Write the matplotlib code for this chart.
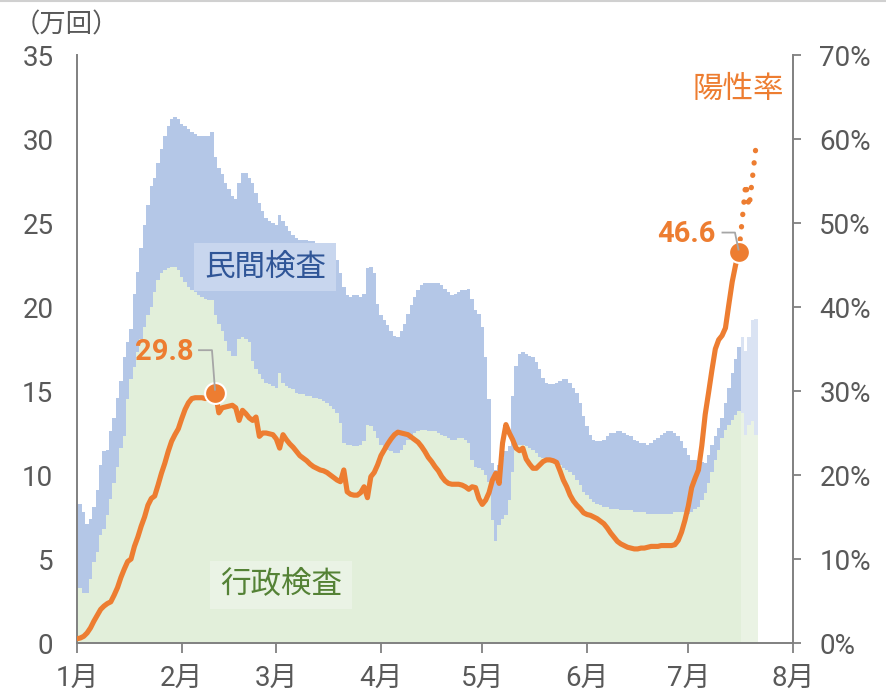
import matplotlib
matplotlib.use("Agg")
import matplotlib.pyplot as plt
import numpy as np
from matplotlib.lines import Line2D

plt.rcParams['font.family'] = ['Roboto', 'Noto Sans CJK JP', 'DejaVu Sans']

# --- data (day index 0 = 1 January) ---
month_labels = ['1月', '2月', '3月', '4月', '5月', '6月', '7月', '8月']
month_starts = [0, 31, 59, 90, 120, 151, 181, 212]

# total tests (万回), 7-day average
total_tests = [
    8.3, 8.3, 7.8, 7.1, 7.4, 8.1, 9.1, 10.6, 11.4, 11.5,
    12.6, 13.4, 14.6, 15.6, 17.0, 17.9, 18.7, 20.8, 22.1, 23.5,
    24.9, 26.1, 27.2, 27.7, 28.6, 29.4, 30.2, 30.8, 31.2, 31.3,
    31.2, 30.9, 30.8, 30.6, 30.4, 30.3, 30.2, 30.2, 30.2, 30.2,
    30.4, 28.9, 28.3, 27.9, 27.4, 27.0, 26.6, 26.4, 27.4, 28.0,
    28.0, 27.7, 27.4, 26.8, 26.2, 25.7, 25.3, 25.1, 25.0, 24.9,
    25.5, 25.1, 24.8, 24.5, 24.3, 24.1, 24.0, 24.0, 24.0, 23.9,
    23.9, 23.8, 23.7, 23.6, 23.4, 23.3, 23.0, 22.8, 22.0, 21.2,
    20.7, 20.6, 20.7, 20.7, 20.6, 20.8, 22.3, 22.4, 22.0, 20.2,
    19.5, 19.2, 18.9, 18.6, 18.3, 18.2, 18.6, 19.0, 19.6, 20.1,
    20.6, 21.0, 21.3, 21.4, 21.4, 21.4, 21.4, 21.4, 21.3, 21.1,
    20.9, 20.7, 20.8, 20.9, 21.0, 21.0, 21.1, 20.5, 19.8, 19.6,
    18.8, 17.0, 14.5, 10.7, 10.3, 10.6, 11.0, 11.4, 11.7, 14.7,
    16.5, 17.2, 17.3, 17.2, 17.1, 17.0, 16.7, 16.3, 15.8, 15.5,
    15.4, 15.4, 15.5, 15.6, 15.7, 15.7, 15.5, 15.2, 14.9, 14.3,
    13.5, 12.9, 12.4, 12.1, 12.0, 12.0, 12.1, 12.3, 12.5, 12.5,
    12.6, 12.6, 12.5, 12.4, 12.3, 12.1, 12.0, 11.9, 11.9, 11.8,
    11.9, 12.1, 12.2, 12.4, 12.5, 12.6, 12.6, 12.5, 12.3, 12.0,
    11.6, 11.2, 10.9, 10.9, 10.7, 10.8, 10.7, 11.2, 11.8, 12.3,
    12.8, 13.4, 14.3, 15.2, 16.1, 16.9, 17.6, 18.2, 17.4, 18.2,
    19.2, 19.3,
]

# administrative tests (行政検査), 万回
gyosei_tests = [
    3.3, 3.3, 3.0, 3.0, 3.8, 4.8, 5.4, 6.4, 6.8, 7.6,
    8.6, 9.5, 10.5, 11.6, 12.3, 14.5, 15.7, 16.4, 17.3, 18.1,
    18.8, 19.5, 20.0, 20.9, 21.6, 22.0, 22.2, 22.3, 22.4, 22.4,
    22.2, 21.8, 21.5, 21.2, 21.0, 20.9, 20.7, 20.6, 20.5, 20.4,
    20.4, 19.5, 19.0, 18.6, 18.0, 17.4, 17.1, 17.1, 18.1, 18.2,
    18.1, 17.9, 16.8, 16.3, 16.0, 15.7, 15.5, 15.4, 15.3, 15.2,
    16.1, 15.5, 15.3, 15.2, 15.1, 14.9, 14.8, 14.8, 14.7, 14.7,
    14.6, 14.6, 14.5, 14.4, 14.3, 14.1, 13.9, 13.7, 13.1, 11.9,
    11.8, 11.8, 11.7, 11.7, 11.8, 12.0, 13.0, 12.9, 12.6, 12.2,
    11.8, 11.6, 11.5, 11.4, 11.3, 11.3, 11.5, 11.8, 12.1, 12.4,
    12.5, 12.6, 12.7, 12.7, 12.6, 12.6, 12.6, 12.5, 12.4, 12.3,
    12.2, 12.1, 12.1, 12.2, 12.2, 12.1, 11.9, 10.9, 10.5, 10.4,
    10.3, 10.0, 9.6, 7.3, 6.1, 7.0, 7.4, 7.6, 8.5, 10.2,
    11.5, 11.8, 11.8, 11.7, 11.6, 11.5, 11.3, 11.1, 11.0, 10.9,
    10.9, 10.8, 10.7, 10.6, 10.4, 10.3, 10.2, 10.0, 9.7, 9.4,
    9.0, 8.8, 8.6, 8.4, 8.3, 8.2, 8.1, 8.1, 8.0, 8.0,
    8.0, 7.9, 7.9, 7.9, 7.9, 7.8, 7.8, 7.8, 7.8, 7.7,
    7.7, 7.7, 7.7, 7.7, 7.7, 7.7, 7.7, 7.8, 7.8, 7.8,
    7.8, 7.7, 7.8, 8.0, 8.1, 8.5, 8.9, 9.5, 10.2, 10.9,
    11.5, 12.2, 12.7, 13.0, 13.3, 13.6, 13.8, 13.7, 12.4, 13.0,
    13.2, 12.4,
]

# positivity rate (%), confirmed part
positivity = [
    0.5, 0.6, 0.8, 1.2, 1.8, 2.6, 3.3, 4.0, 4.4, 4.7,
    4.9, 5.7, 6.6, 7.8, 8.8, 9.7, 10.0, 11.5, 12.6, 13.9,
    15.0, 16.4, 17.2, 17.5, 18.8, 20.2, 21.4, 22.8, 24.0, 24.8,
    25.5, 26.7, 27.8, 28.6, 29.1, 29.2, 29.2, 29.2, 29.1, 29.2,
    29.5, 29.8, 27.4, 28.0, 28.1, 28.2, 28.3, 28.0, 26.5, 27.7,
    27.3, 26.8, 26.5, 26.9, 24.6, 25.0, 25.0, 24.9, 24.8, 24.3,
    23.2, 24.8, 24.2, 23.7, 23.3, 22.8, 22.3, 22.0, 21.7, 21.3,
    21.0, 20.8, 20.6, 20.5, 20.3, 20.0, 19.7, 19.4, 19.2, 20.6,
    18.0, 17.7, 17.6, 17.6, 17.9, 18.6, 17.3, 19.8, 20.3, 21.2,
    22.3, 23.0, 23.7, 24.3, 24.8, 25.1, 25.0, 24.9, 24.8, 24.5,
    24.2, 23.9, 23.4, 22.8, 22.1, 21.6, 21.0, 20.5, 19.8, 19.3,
    19.0, 18.9, 18.9, 18.9, 18.8, 18.6, 18.3, 18.6, 18.5, 17.2,
    16.5, 17.0, 17.9, 19.4, 20.2, 19.0, 23.8, 26.0, 25.0, 24.2,
    23.2, 22.9, 23.2, 21.9, 21.3, 20.8, 20.8, 21.2, 21.6, 21.8,
    21.8, 21.7, 21.5, 20.5, 19.4, 18.6, 17.6, 16.9, 16.4, 16.0,
    15.5, 15.3, 15.2, 15.0, 14.8, 14.5, 14.2, 13.7, 13.1, 12.6,
    12.1, 11.8, 11.6, 11.4, 11.3, 11.2, 11.2, 11.3, 11.3, 11.4,
    11.5, 11.5, 11.5, 11.6, 11.6, 11.6, 11.6, 11.7, 12.2, 13.2,
    14.6, 16.3, 18.5, 19.6, 20.6, 23.5, 27.2, 29.8, 32.5, 35.0,
    36.1, 36.6, 37.5, 40.3, 43.0, 45.0, 46.6,
]
# preliminary positivity (dotted), starting from the last confirmed day
positivity_prelim = [46.6, 50.5, 54.7, 51.9, 55.4, 59.0]

prelim_start = 197          # first day with preliminary test counts
peak_day = 41               # day of the February peak label (29.8)
last_day = len(positivity) - 1

# --- colours ---
C_GREEN = '#E2EFDA'
C_GREEN_LT = '#EAF3E4'
C_BLUE = '#B4C7E7'
C_BLUE_LT = '#DAE3F3'
C_ORANGE = '#ED7D31'
C_AXIS = '#808080'
C_TEXT = '#595959'

W, H = 886, 699
fig = plt.figure(figsize=(W / 100, H / 100), dpi=100)
ax = fig.add_axes([77 / W, 1 - 643 / H, (793 - 77) / W, (643 - 55) / H])

total = np.array(total_tests)
gyo = np.array(gyosei_tests)
n = len(total)
edges = np.arange(n + 1) - 0.5


def stair_fill(a, lo, hi, i0, i1, color):
    x = edges[i0:i1 + 1]
    y_lo = np.append(lo[i0:i1], lo[i1 - 1])
    y_hi = np.append(hi[i0:i1], hi[i1 - 1])
    a.fill_between(x, y_lo, y_hi, step='post', color=color, lw=0,
                   antialiased=False)


zeros = np.zeros(n)
stair_fill(ax, zeros, gyo, 0, prelim_start, C_GREEN)
stair_fill(ax, gyo, total, 0, prelim_start, C_BLUE)
stair_fill(ax, zeros, gyo, prelim_start, n, C_GREEN_LT)
stair_fill(ax, gyo, total, prelim_start, n, C_BLUE_LT)

ax.set_xlim(0, 212)
ax.set_ylim(0, 35)
ax.set_yticks(range(0, 36, 5))
ax.set_xticks(month_starts)
ax.set_xticklabels(month_labels)

for s in ('top', 'right'):
    ax.spines[s].set_visible(False)
for s in ('left', 'bottom'):
    ax.spines[s].set_color(C_AXIS)
    ax.spines[s].set_linewidth(1.4)
ax.tick_params(axis='y', length=0, pad=17, labelsize=20, labelcolor=C_TEXT)
ax.tick_params(axis='x', length=7, width=1.3, color=C_AXIS, direction='out',
               pad=9, labelsize=20, labelcolor=C_TEXT)

# --- positivity on the right axis ---
ax2 = ax.twinx()
ax2.set_ylim(0, 70)
ax2.set_yticks(range(0, 71, 10))
ax2.set_yticklabels([f'{v}%' for v in range(0, 71, 10)])
for s in ('top', 'left', 'bottom'):
    ax2.spines[s].set_visible(False)
ax2.spines['right'].set_color(C_AXIS)
ax2.spines['right'].set_linewidth(1.4)
ax2.tick_params(axis='y', length=6, width=1.3, color=C_AXIS, direction='out',
                pad=13, labelsize=20, labelcolor=C_TEXT)

days = np.arange(len(positivity))
prelim_days = np.arange(last_day, last_day + len(positivity_prelim))
ax2.plot(prelim_days, positivity_prelim, color=C_ORANGE, lw=3.8,
         linestyle=(0, (0.05, 2.3)), dash_capstyle='round', zorder=3)
ax2.plot(days, positivity, color=C_ORANGE, lw=3.7, solid_joinstyle='round',
         solid_capstyle='round', zorder=4)

for d in (peak_day, last_day):
    ax2.plot(d, positivity[d], 'o', ms=15, mfc=C_ORANGE, mec='white',
             mew=1.5, zorder=5)

# value labels with leader lines (pixel offsets from the marker)
callouts = [
    (peak_day, (-51, 41), [(-16.5, 42.5), (-3.5, 42.5), (-0.5, 3)]),
    (last_day, (-53, 18), [(-16.5, 19), (-4, 19), (-0.5, 2)]),
]
for d, txt_off, path in callouts:
    v = positivity[d]
    ax2.annotate(f'{v:.1f}', xy=(d, v), xytext=txt_off,
                 textcoords='offset pixels', ha='center', va='center',
                 fontsize=21, fontweight='bold', color=C_ORANGE, zorder=6)
    px, py = ax2.transData.transform((d, v))
    xs = [px + dx for dx, dy in path]
    ys = [py + dy for dx, dy in path]
    fig.add_artist(Line2D(xs, ys, transform=None, color='#A6A6A6', lw=1.3,
                          zorder=7))

# --- series labels ---
ax.text(0.2626, 0.6395, '民間検査', transform=ax.transAxes, ha='center',
        va='center', fontsize=22, color='#2F5597', zorder=2,
        bbox=dict(boxstyle='square,pad=0.32', fc='#C8D6EE', ec='none'))
ax.text(0.285, 0.0986, '行政検査', transform=ax.transAxes, ha='center',
        va='center', fontsize=22, color='#548235', zorder=2,
        bbox=dict(boxstyle='square,pad=0.32', fc='#EAF3E5', ec='none'))
fig.text(738 / W, 1 - 89 / H, '陽性率', ha='center', va='center',
         fontsize=22, color=C_ORANGE)
fig.text(66 / W, 1 - 25 / H, '（万回）', ha='center', va='center',
         fontsize=19, color=C_TEXT)

fig.add_artist(Line2D([0, 1], [1 - 1 / H, 1 - 1 / H], transform=fig.transFigure,
                      color='#D0D0D0', lw=1.5))

fig.savefig('out.png', dpi=100)
